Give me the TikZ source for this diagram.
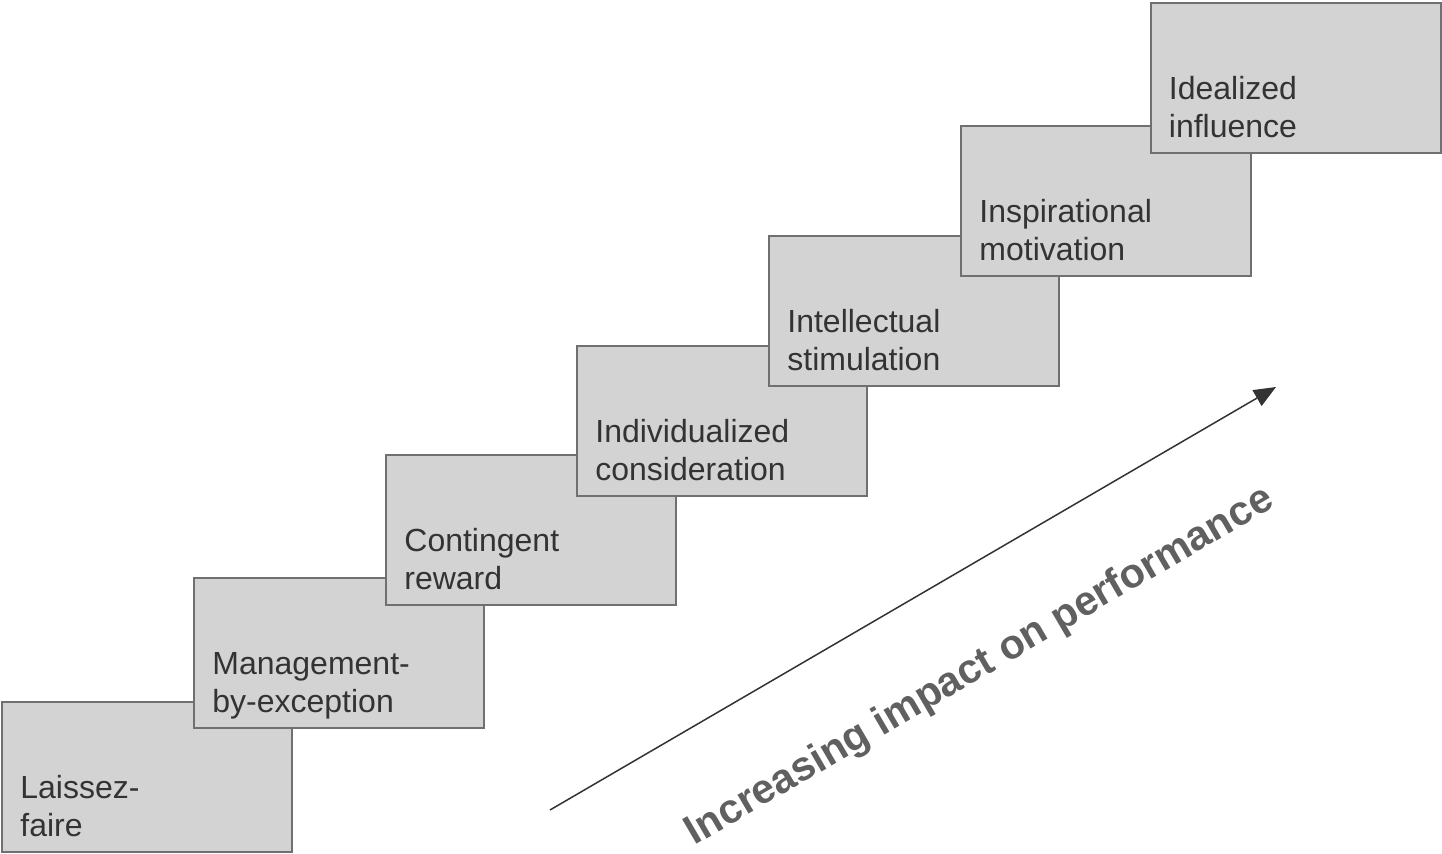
\documentclass[tikz,border=0pt]{standalone}
\usepackage{fontspec}
\setmainfont{Liberation Sans}
\usetikzlibrary{arrows.meta, positioning}
\definecolor{stepfill}{HTML}{D3D3D3}
\definecolor{stepline}{HTML}{707070}
\definecolor{steptext}{HTML}{333333}
\definecolor{trendgray}{HTML}{606060}

\begin{document}
\begin{tikzpicture}[
    x=0.5pt, y=-0.5pt,
    stepbox/.style={rectangle, draw=stepline, line width=1pt, fill=stepfill, minimum width=145pt, minimum height=75pt, inner sep=0pt, on grid},
    steplabel/.style={anchor=base west, inner sep=0pt, align=left, text=steptext, font=\fontsize{16}{19}\selectfont},
    trend/.style={-{Triangle[length=11pt, width=9pt]}, line width=0.75pt, draw=steptext},
    trendlabel/.style={font=\bfseries\fontsize{20.6}{25}\selectfont, text=trendgray, rotate=30.3}
]
\useasboundingbox (0,0) rectangle (1442,854);

% Steps, lowest to highest
\node[stepbox] (lf) at (147,777) {};
\node[steplabel] (lf-t) at ([shift={(9.5pt,-68pt)}]lf.north west) {Laissez-\\faire};

\node[stepbox, above right=62pt and 96pt of lf] (mbe) {};
\node[steplabel] (mbe-t) at ([shift={(9.5pt,-68pt)}]mbe.north west) {Management-\\by-exception};

\node[stepbox, above right=61.5pt and 96pt of mbe] (cr) {};
\node[steplabel] (cr-t) at ([shift={(9.5pt,-68pt)}]cr.north west) {Contingent\\reward};

\node[stepbox, above right=54.5pt and 95.5pt of cr] (ic) {};
\node[steplabel] (ic-t) at ([shift={(9.5pt,-68pt)}]ic.north west) {Individualized\\consideration};

\node[stepbox, above right=55pt and 96pt of ic] (is) {};
\node[steplabel] (is-t) at ([shift={(9.5pt,-68pt)}]is.north west) {Intellectual\\stimulation};

\node[stepbox, above right=55pt and 96pt of is] (im) {};
\node[steplabel] (im-t) at ([shift={(9.5pt,-68pt)}]im.north west) {Inspirational\\motivation};

\node[stepbox, above right=61.5pt and 94.75pt of im] (ii) {};
\node[steplabel] (ii-t) at ([shift={(9.5pt,-68pt)}]ii.north west) {Idealized\\influence};

% Trend arrow
\coordinate (tail) at (550,810);
\coordinate (head) at (1276,387);
\draw[trend] (tail) -- (head);
\node[trendlabel] (trend-t) at (980,667) {Increasing impact on performance};

\end{tikzpicture}
\end{document}
